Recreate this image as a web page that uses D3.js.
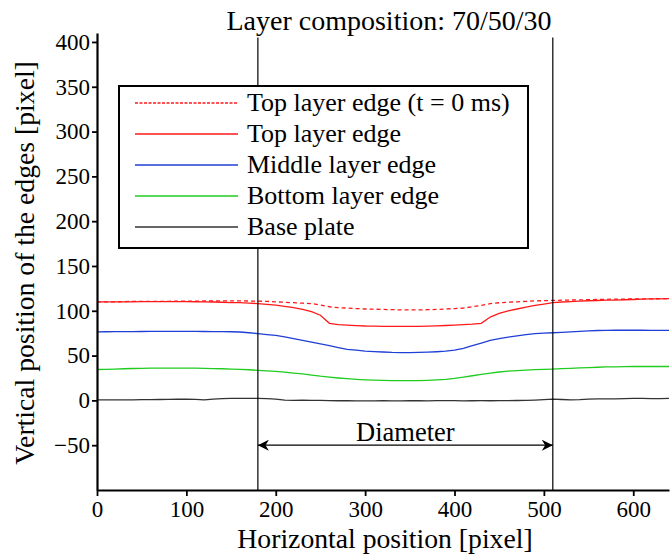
<!DOCTYPE html>
<html>
<head>
<meta charset="utf-8">
<script src="https://cdn.jsdelivr.net/npm/d3@7"></script>
<style>
  body { margin: 0; background: #fff; }
</style>
</head>
<body>
<svg id="chart"></svg>
<script>
const width = 670, height = 557;
const FONT = "'Liberation Serif', 'Times New Roman', serif";

// horizontal sample positions (pixel)
const xPositions = d3.range(0, 641, 10);

const topEdgeT0 = [110, 110, 110, 110.3, 110.5, 110.5, 110.5, 110.6, 110.6, 110.7, 110.8, 110.8, 110.9, 110.9, 111, 111, 111, 110.9,
  110.8, 110.5, 110, 109.5, 109, 108.5, 108, 106.5, 104.5, 103.5, 103, 102.5, 102, 101.8, 101.5, 101.3, 101, 101, 101, 101.2, 101.5,
  102, 102.5, 103, 104.5, 106, 108, 109, 109.5, 110, 110.5, 111, 111.3, 111.6, 111.8, 112, 112.2, 112.4, 112.6, 112.8, 113, 113.1,
  113.2, 113.3, 113.4, 113.5, 113.5];
const topEdge = [110, 110, 110, 110, 110, 110.2, 110.3, 110.3, 110.3, 110.3, 110.2, 110.1, 110, 109.8, 109.5, 109.2, 109, 108.5,
  108, 107.2, 106.3, 105, 103.5, 101.5, 99, 95, 86, 84.5, 84, 83.5, 83, 82.8, 82.6, 82.5, 82.5, 82.5, 82.6, 82.8, 83.2,
  83.6, 84, 84.5, 85, 86, 93, 97, 100, 102, 104, 106, 107.5, 109, 109.8, 110.3, 110.8, 111.2, 111.5, 111.8, 112, 112.3,
  112.6, 112.9, 113.2, 113.4, 113.5];
const middleEdge = [76.5, 76.6, 76.7, 76.8, 76.8, 76.9, 77, 77, 77, 77, 77, 77, 76.9, 76.8, 76.7, 76.6, 76.3, 75.5,
  74.5, 73.5, 72.5, 71, 69, 67, 65, 63, 61, 59, 57, 56, 55, 54.5, 54, 53.5, 53.3, 53.3, 53.5, 53.8, 54.3,
  55, 56, 58, 61, 64, 67, 69, 70.7, 72, 73.5, 74.5, 75, 75.5, 76, 76.5, 77, 77.5, 78, 78.2, 78.3, 78.3,
  78.3, 78.3, 78.2, 78.2, 78.2];
const bottomEdge = [34.5, 34.7, 35, 35.3, 35.6, 35.8, 36, 36, 36, 36, 36, 36, 35.8, 35.5, 35.3, 35, 34.6, 34.2,
  33.5, 33, 32.4, 31.5, 30.5, 29.5, 28.3, 27, 26, 25, 24.2, 23.5, 23, 22.6, 22.3, 22, 22, 22, 22, 22.3, 22.8,
  23.5, 24.5, 26, 27.5, 29, 30.5, 31.7, 32.7, 33.3, 33.8, 34.3, 34.7, 35, 35.4, 35.8, 36.2, 36.6, 37, 37.3, 37.5, 37.7,
  37.8, 37.8, 37.8, 37.8, 37.8];
const basePlate = [0.5, 0.5, 0.5, 0.6, 0.6, 0.8, 0.8, 1, 1.2, 1.3, 1.5, 1.2, 0.6, 1.5, 2, 2.2, 2.3, 2.3,
  2.2, 2, 1.5, 0.2, 0, 0.2, 0.1, 0, -0.2, -0.4, -0.3, -0.5, -0.6, -0.5, -0.4, -0.6, -0.5, -0.3, -0.4, -0.5, -0.3,
  -0.2, -0.3, -0.5, -0.4, -0.3, -0.4, -0.2, -0.3, -0.1, 0, 0.3, 0.8, 1.5, 1, 0.5, 0.8, 1.5, 1.8, 1.7, 1.8, 2,
  2.2, 2.2, 2, 2, 2.2];

const seriesNames = ["Top layer edge (t = 0 ms)", "Top layer edge", "Middle layer edge", "Bottom layer edge", "Base plate"];
const seriesColors = ["#ff1a1a", "#ff1a1a", "#1f3fd6", "#1fcc1f", "#333333"];
const seriesValues = [topEdgeT0, topEdge, middleEdge, bottomEdge, basePlate];

const xTicks = [0, 100, 200, 300, 400, 500, 600];
const yTicks = [-50, 0, 50, 100, 150, 200, 250, 300, 350, 400];
const diameterEdges = [180, 510];

const margin = { top: 33, right: 1, bottom: 67, left: 97 };

const svg = d3.select("#chart")
  .attr("width", width).attr("height", height)
  .attr("font-family", FONT);

const x = d3.scaleLinear().domain([0, 640]).range([margin.left, width - margin.right]);
const y = d3.scaleLinear().domain([-100, 410]).range([height - margin.bottom, margin.top]);

// series lines
const line = d3.line()
  .x((d, i) => x(xPositions[i]))
  .y(d => y(d));

seriesValues.forEach((vals, k) => {
  svg.append("path")
    .datum(vals)
    .attr("fill", "none")
    .attr("stroke", seriesColors[k])
    .attr("stroke-width", 1.3)
    .attr("stroke-dasharray", k === 0 ? "4,3" : null)
    .attr("d", line);
});

// vertical diameter lines
diameterEdges.forEach(v => {
  svg.append("line")
    .attr("x1", x(v)).attr("x2", x(v))
    .attr("y1", y(405)).attr("y2", y(-100))
    .attr("stroke", "#000").attr("stroke-width", 1.2);
});

// diameter arrow
const defs = svg.append("defs");
["arrowEnd", "arrowStart"].forEach((id, i) => {
  defs.append("marker")
    .attr("id", id)
    .attr("viewBox", "0 0 10 10")
    .attr("refX", 10).attr("refY", 5)
    .attr("markerWidth", 13).attr("markerHeight", 11)
    .attr("markerUnits", "userSpaceOnUse")
    .attr("orient", i === 0 ? "auto" : "auto-start-reverse")
    .append("path")
    .attr("d", "M0,0 L10,5 L0,10 L3,5 Z")
    .attr("fill", "#000");
});
svg.append("line")
  .attr("x1", x(diameterEdges[0])).attr("x2", x(diameterEdges[1]))
  .attr("y1", y(-50)).attr("y2", y(-50))
  .attr("stroke", "#000").attr("stroke-width", 1.2)
  .attr("marker-start", "url(#arrowStart)")
  .attr("marker-end", "url(#arrowEnd)");

function label(sel, size, weight) {
  return sel.attr("font-family", FONT)
    .style("font-family", FONT)
    .style("font-size", size + "px")
    .style("font-weight", weight || "normal")
    .attr("fill", "#000");
}

label(svg.append("text")
  .attr("x", x((diameterEdges[0] + diameterEdges[1]) / 2))
  .attr("y", y(-50) - 4)
  .attr("text-anchor", "middle"), 26.5)
  .text("Diameter");

// axes
const xAxis = svg.append("g")
  .attr("transform", `translate(0,${y(-100)})`)
  .call(d3.axisBottom(x).tickValues(xTicks).tickSize(6).tickSizeOuter(0).tickPadding(5));
const yAxis = svg.append("g")
  .attr("transform", `translate(${x(0)},0)`)
  .call(d3.axisLeft(y).tickValues(yTicks).tickSize(5).tickSizeOuter(0).tickPadding(2));
[xAxis, yAxis].forEach(g => {
  g.attr("font-family", FONT).attr("font-size", 23);
  g.select(".domain").attr("stroke-width", 2.2);
  g.selectAll(".tick line").attr("stroke-width", 1.8);
  label(g.selectAll("text"), 23);
});

// titles
label(svg.append("text")
  .attr("x", 389).attr("y", 30)
  .attr("text-anchor", "middle"), 28)
  .text("Layer composition: 70/50/30");
label(svg.append("text")
  .attr("x", 385).attr("y", 548)
  .attr("text-anchor", "middle"), 27.7)
  .text("Horizontal position [pixel]");
label(svg.append("text")
  .attr("transform", `translate(34,263) rotate(-90)`)
  .attr("text-anchor", "middle"), 27.7)
  .text("Vertical position of the edges [pixel]");

// legend
const legend = svg.append("g").attr("transform", "translate(119,86)");
legend.append("rect")
  .attr("width", 409).attr("height", 162)
  .attr("fill", "#fff").attr("stroke", "#000").attr("stroke-width", 2);
seriesNames.forEach((name, k) => {
  const ly = 17 + k * 31;
  legend.append("line")
    .attr("x1", 16).attr("x2", 119)
    .attr("y1", ly).attr("y2", ly)
    .attr("stroke", seriesColors[k])
    .attr("stroke-width", 1.3)
    .attr("stroke-dasharray", k === 0 ? "3,1.5" : null);
  label(legend.append("text")
    .attr("x", 128).attr("y", ly + 8), 26)
    .text(name);
});
</script>
</body>
</html>
